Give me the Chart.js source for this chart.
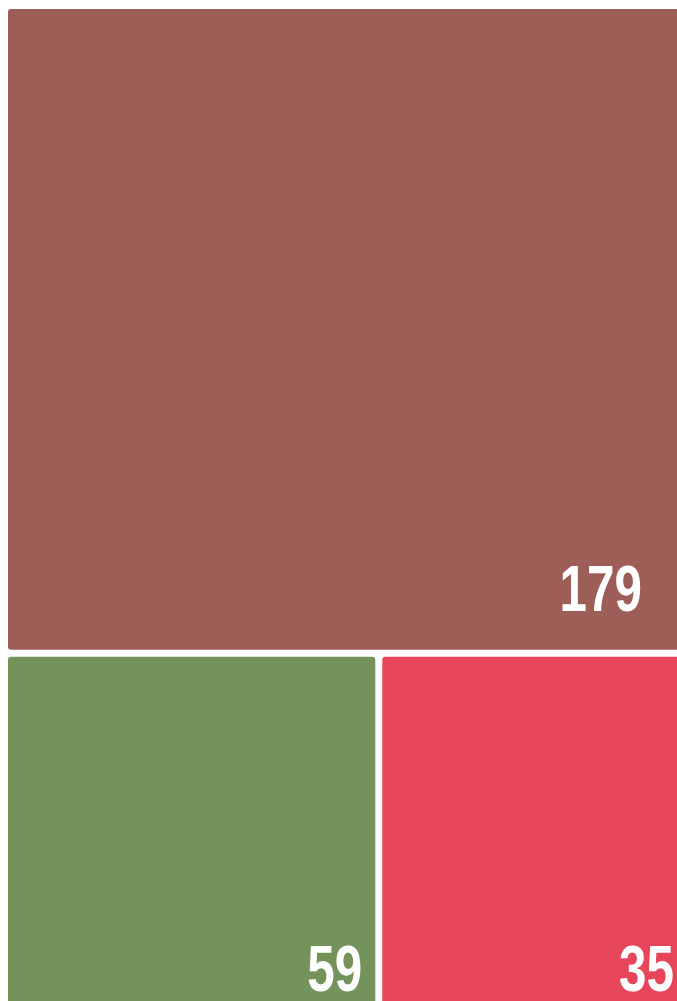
<!DOCTYPE html>
<html>
<head>
<meta charset="utf-8">
<script src="https://cdn.jsdelivr.net/npm/chart.js@4.4.1/dist/chart.umd.min.js"></script>
<style>
  html, body { margin: 0; padding: 0; background: #fff; overflow: hidden; }
  #wrap { position: relative; width: 700px; height: 1040px; }
</style>
</head>
<body>
<div id="wrap"><canvas id="myChart" width="700" height="1040"></canvas></div>
<script>
// numbers printed on the tiles
const values = [179, 59, 35];
// share of the plot area each tile covers (%)
const areaShare = [63.0, 20.1, 16.9];
const colors = ['#9e5e58', '#74935a', '#e6455a'];

// squarified treemap, returns cells as fractions [x0, y0, x1, y1]
function squarify(sizes, W, H) {
  const total = sizes.reduce((a, b) => a + b, 0);
  const areas = sizes.map(s => s / total * W * H);
  const out = [];
  let x = 0, y = 0, w = W, h = H, i = 0;
  while (i < areas.length) {
    const side = Math.min(w, h);
    const worst = r => {
      const s = r.reduce((a, b) => a + b, 0);
      return Math.max(side * side * Math.max(...r) / (s * s), s * s / (side * side * Math.min(...r)));
    };
    const row = [areas[i]];
    let j = i + 1;
    while (j < areas.length && worst(row.concat(areas[j])) <= worst(row)) {
      row.push(areas[j]);
      j++;
    }
    const thick = row.reduce((a, b) => a + b, 0) / side;
    let off = 0;
    row.forEach(a => {
      const len = a / thick;
      if (w <= h) out.push([x + off, y, x + off + len, y + thick]);
      else out.push([x, y + off, x + thick, y + off + len]);
      off += len;
    });
    if (w <= h) { y += thick; h -= thick; } else { x += thick; w -= thick; }
    i = j;
  }
  return out.map(r => [r[0] / W, r[1] / H, r[2] / W, r[3] / H]);
}

class TreemapController extends Chart.DatasetController {
  update(mode) {
    const meta = this._cachedMeta;
    this.updateElements(meta.data, 0, meta.data.length, mode);
  }
  updateElements(rects, start, count, mode) {
    const meta = this._cachedMeta;
    const area = this.chart.chartArea;
    const ds = this.getDataset();
    const cells = squarify(ds.area, area.right - area.left, area.bottom - area.top);
    const gap = ds.spacing;
    for (let i = start; i < start + count; i++) {
      const c = cells[i];
      const left = meta.xScale.getPixelForValue(c[0]) + gap / 2;
      const right = meta.xScale.getPixelForValue(c[2]) - gap / 2;
      const top = meta.yScale.getPixelForValue(c[1]) + gap / 2;
      const bottom = meta.yScale.getPixelForValue(c[3]) - gap / 2;
      this.updateElement(rects[i], i, {
        x: (left + right) / 2,
        y: top,
        base: bottom,
        width: right - left,
        height: bottom - top,
        horizontal: false,
        enableBorderRadius: true,
        borderSkipped: {},
        inflateAmount: 0,
        options: this.resolveDataElementOptions(i, mode)
      }, mode);
    }
  }
  draw() {
    super.draw();
    const ctx = this.chart.ctx;
    const ds = this.getDataset();
    this._cachedMeta.data.forEach((el, i) => {
      const p = el.getProps(['x', 'base', 'width'], true);
      ctx.save();
      ctx.translate(p.x + p.width / 2 - ds.labelInset[i], p.base - 39);
      // the original face is a condensed bold, squeeze the regular one
      ctx.scale(0.76, 1);
      ctx.fillStyle = '#ffffff';
      ctx.font = 'bold 65px "Liberation Sans", Arial, sans-serif';
      ctx.textAlign = 'right';
      ctx.textBaseline = 'alphabetic';
      ctx.fillText(String(ds.data[i]), 0, 0);
      ctx.restore();
    });
  }
}
TreemapController.id = 'treemap';
TreemapController.defaults = { datasetElementType: false, dataElementType: 'bar' };
Chart.register(TreemapController);

const config = {
  type: 'treemap',
  data: {
    datasets: [{
      data: values,
      area: areaShare,
      backgroundColor: colors,
      borderWidth: 0,
      borderRadius: 3,
      spacing: 7,
      labelInset: [48, 13, 16]
    }]
  },
  options: {
    responsive: false,
    animation: false,
    layout: { padding: { left: 4.5, top: 5.5, right: 6.5, bottom: 6.5 } },
    scales: {
      x: { type: 'linear', min: 0, max: 1, display: false },
      y: { type: 'linear', min: 0, max: 1, reverse: true, display: false }
    },
    plugins: { legend: { display: false }, tooltip: { enabled: false } }
  }
};

const myChart = new Chart(document.getElementById('myChart').getContext('2d'), config);
</script>
</body>
</html>
